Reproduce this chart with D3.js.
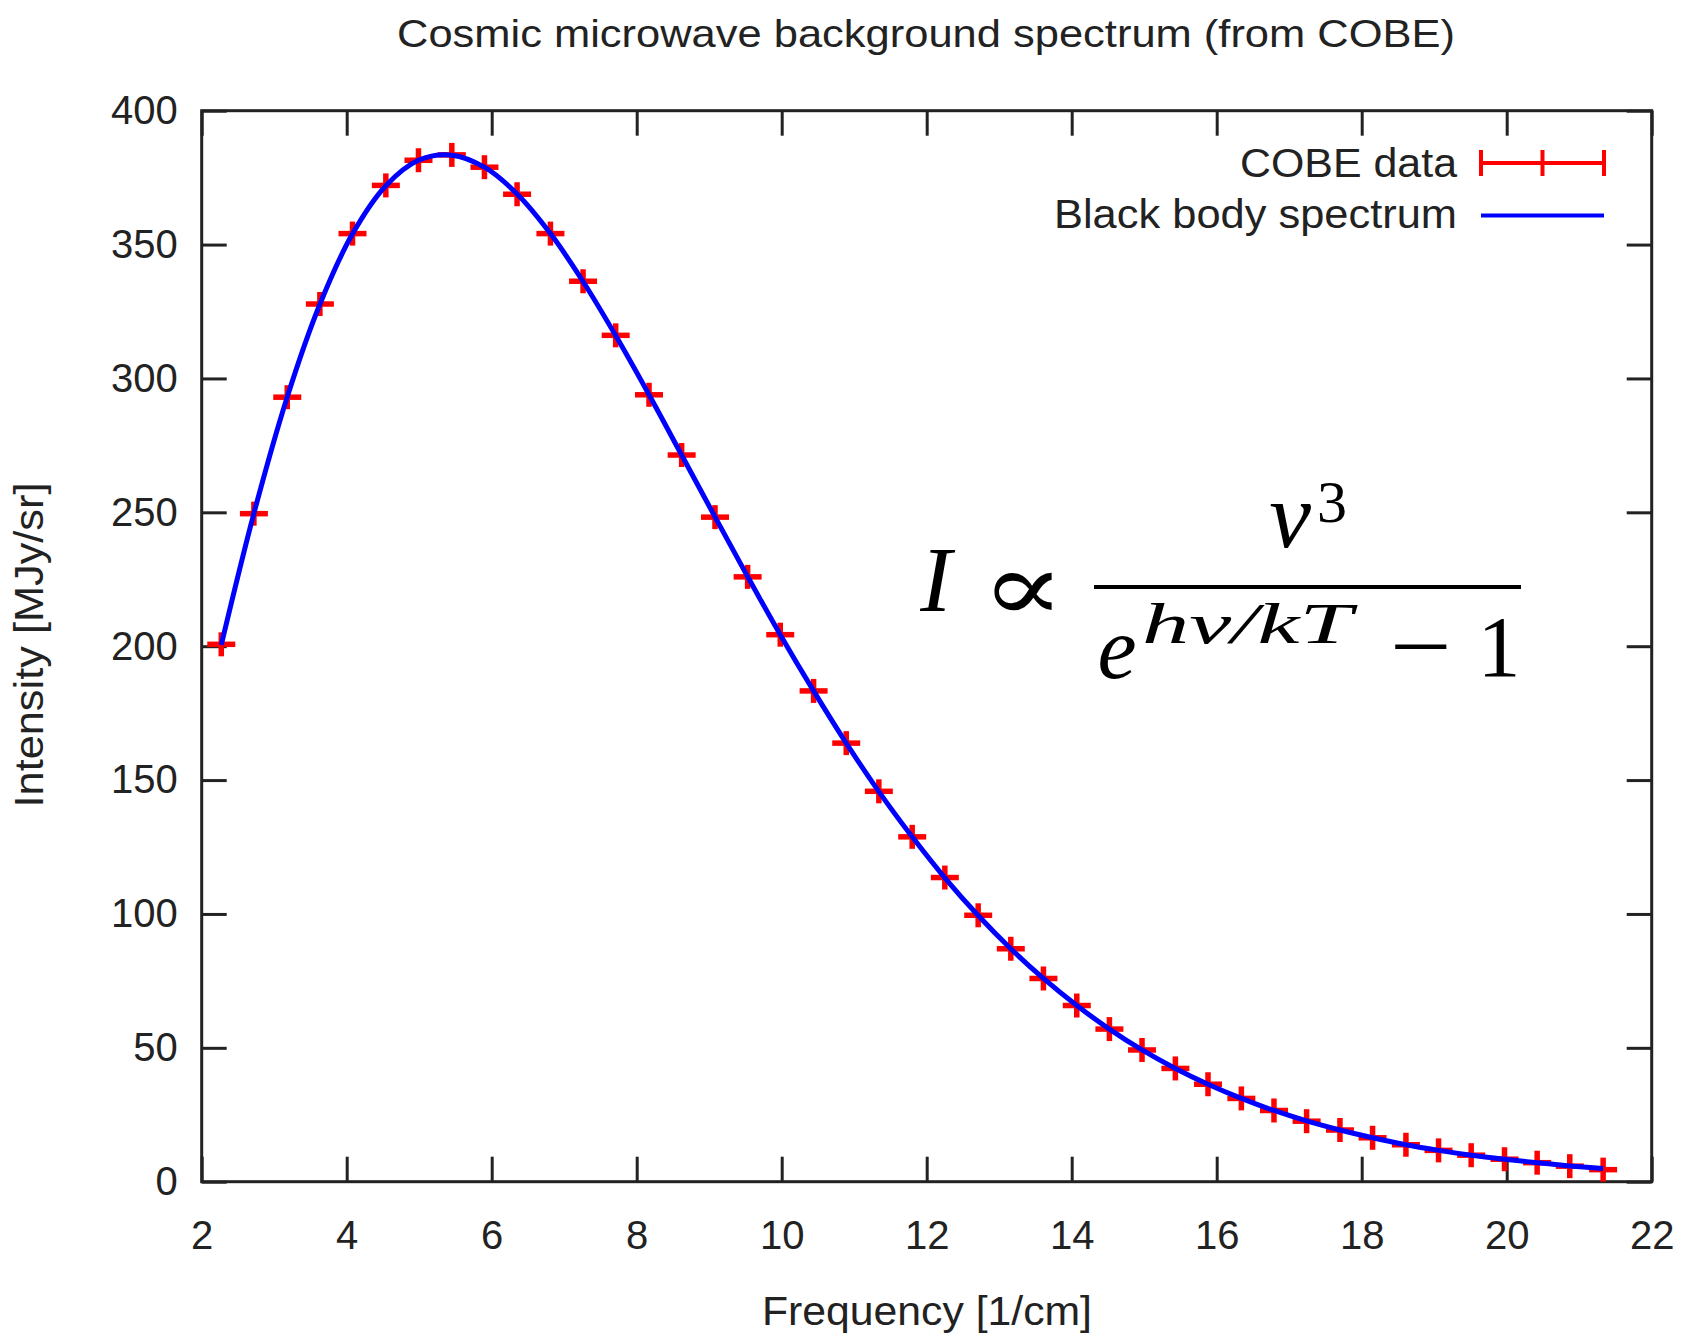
<!DOCTYPE html>
<html>
<head>
<meta charset="utf-8">
<script src="https://cdn.jsdelivr.net/npm/d3@7"></script>
<style>
  html, body { margin: 0; padding: 0; background: #fff; }
  svg { display: block; }
</style>
</head>
<body>
<script>
// ---- data ----
const titleText = "Cosmic microwave background spectrum (from COBE)";
const xLabel = "Frequency [1/cm]";
const yLabel = "Intensity [MJy/sr]";
const legendLabels = ["COBE data", "Black body spectrum"];
const xTicks = [2, 4, 6, 8, 10, 12, 14, 16, 18, 20, 22];
const yTicks = [0, 50, 100, 150, 200, 250, 300, 350, 400];

const frequency = [2.27, 2.72, 3.18, 3.63, 4.08, 4.54, 4.99, 5.45, 5.90, 6.35,
  6.81, 7.26, 7.71, 8.17, 8.62, 9.08, 9.53, 9.98, 10.44, 10.89,
  11.34, 11.80, 12.25, 12.71, 13.16, 13.61, 14.07, 14.52, 14.97, 15.43,
  15.88, 16.34, 16.79, 17.24, 17.70, 18.15, 18.61, 19.06, 19.51, 19.97,
  20.42, 20.87, 21.33];
const cobeIntensity = [200.7, 249.5, 293.0, 327.8, 354.1, 372.1, 381.5, 383.5, 378.9, 368.8,
  354.1, 336.3, 316.1, 293.9, 271.4, 248.2, 225.9, 204.3, 183.3, 163.8,
  145.8, 128.8, 113.6, 99.5, 87.0, 75.9, 65.8, 57.0, 49.2, 42.3,
  36.4, 31.1, 26.6, 22.6, 19.3, 16.4, 13.8, 11.7, 9.9, 8.4,
  7.1, 5.8, 4.5];
const blackBody = [200.5, 249.6, 293.1, 327.7, 354.0, 372.0, 381.5, 383.4, 378.9, 368.9,
  354.1, 336.2, 316.0, 293.9, 271.4, 248.3, 226.0, 204.3, 183.3, 163.8,
  145.7, 128.8, 113.5, 99.4, 87.0, 75.9, 65.8, 57.0, 49.2, 42.3,
  36.4, 31.1, 26.6, 22.7, 19.3, 16.4, 13.8, 11.7, 9.9, 8.4,
  7.1, 5.9, 4.9];

// ---- layout ----
const W = 1682, H = 1335;
const L = 201.7, R = 1651.7, T = 110.7, B = 1181.7;
const ink = "#222";

const svg = d3.select("body").append("svg").attr("width", W).attr("height", H)
  .style("font-family", "'Liberation Sans', Arial, sans-serif");

const x = d3.scaleLinear().domain([2, 22]).range([L, R]);
const y = d3.scaleLinear().domain([0, 400]).range([B, T]);

// title
svg.append("text").attr("x", 926).attr("y", 47).attr("text-anchor", "middle")
  .attr("font-size", 39).attr("fill", ink)
  .attr("textLength", 1058).attr("lengthAdjust", "spacingAndGlyphs")
  .text(titleText);

// axes
const tickLen = 25;
const gx = svg.append("g").attr("transform", `translate(0,${B})`)
  .call(d3.axisBottom(x).tickValues(xTicks).tickSize(-tickLen).tickSizeOuter(0).tickPadding(39).tickFormat(d3.format("d")));
const gy = svg.append("g").attr("transform", `translate(${L},0)`)
  .call(d3.axisLeft(y).tickValues(yTicks).tickSize(-tickLen).tickSizeOuter(0).tickPadding(24).tickFormat(d3.format("d")));
const gxt = svg.append("g").attr("transform", `translate(0,${T})`)
  .call(d3.axisTop(x).tickValues(xTicks).tickSize(-tickLen).tickSizeOuter(0).tickFormat(""));
const gyr = svg.append("g").attr("transform", `translate(${R},0)`)
  .call(d3.axisRight(y).tickValues(yTicks).tickSize(-tickLen).tickSizeOuter(0).tickFormat(""));

[gx, gy, gxt, gyr].forEach(g => {
  g.select(".domain").remove();
  g.selectAll(".tick line").attr("stroke", ink).attr("stroke-width", 3);
  g.selectAll(".tick text").attr("fill", ink).attr("font-size", 40)
    .attr("font-family", "'Liberation Sans', Arial, sans-serif");
});

svg.append("rect").attr("x", L).attr("y", T).attr("width", R - L).attr("height", B - T)
  .attr("fill", "none").attr("stroke", ink).attr("stroke-width", 3);

// axis labels
svg.append("text").attr("x", 927).attr("y", 1325).attr("text-anchor", "middle")
  .attr("font-size", 40).attr("fill", ink)
  .attr("textLength", 330).attr("lengthAdjust", "spacingAndGlyphs").text(xLabel);
svg.append("text").attr("transform", `translate(43,645) rotate(-90)`).attr("text-anchor", "middle")
  .attr("font-size", 40).attr("fill", ink)
  .attr("textLength", 325).attr("lengthAdjust", "spacingAndGlyphs").text(yLabel);

// COBE data markers
const pts = frequency.map((f, i) => ({ f, v: cobeIntensity[i] }));
const red = "#ff0000";
const mk = svg.append("g").attr("stroke", red).attr("stroke-width", 5.5);
mk.selectAll("line.h").data(pts).join("line").attr("class", "h")
  .attr("x1", d => x(d.f) - 14).attr("x2", d => x(d.f) + 14)
  .attr("y1", d => y(d.v)).attr("y2", d => y(d.v));
mk.selectAll("line.v").data(pts).join("line").attr("class", "v")
  .attr("x1", d => x(d.f)).attr("x2", d => x(d.f))
  .attr("y1", d => y(d.v) - 12).attr("y2", d => y(d.v) + 12);

// black body curve
const bb = frequency.map((f, i) => ({ f, v: blackBody[i] }));
svg.append("path").datum(bb)
  .attr("fill", "none").attr("stroke", "#0000ff").attr("stroke-width", 5)
  .attr("stroke-linejoin", "round")
  .attr("d", d3.line().x(d => x(d.f)).y(d => y(d.v)).curve(d3.curveCatmullRom.alpha(0.5)));

// legend
const lg = svg.append("g");
lg.append("text").attr("x", 1457).attr("y", 177).attr("text-anchor", "end")
  .attr("font-size", 41).attr("fill", ink)
  .attr("textLength", 217).attr("lengthAdjust", "spacingAndGlyphs").text(legendLabels[0]);
lg.append("text").attr("x", 1457).attr("y", 228).attr("text-anchor", "end")
  .attr("font-size", 41).attr("fill", ink)
  .attr("textLength", 403).attr("lengthAdjust", "spacingAndGlyphs").text(legendLabels[1]);
const ly1 = 163, lx1 = 1481, lx2 = 1604;
lg.append("line").attr("x1", lx1).attr("x2", lx2).attr("y1", ly1).attr("y2", ly1)
  .attr("stroke", red).attr("stroke-width", 4);
[lx1, (lx1 + lx2) / 2, lx2].forEach(px => {
  lg.append("line").attr("x1", px).attr("x2", px).attr("y1", ly1 - 13).attr("y2", ly1 + 13)
    .attr("stroke", red).attr("stroke-width", 4);
});
lg.append("line").attr("x1", lx1).attr("x2", lx2).attr("y1", 215.5).attr("y2", 215.5)
  .attr("stroke", "#0000ff").attr("stroke-width", 4);

// formula
const fm = svg.append("g").attr("font-family", "'Liberation Serif', 'DejaVu Serif', serif").attr("fill", "#000");
fm.append("text").attr("x", 936).attr("y", 611).attr("text-anchor", "middle")
  .attr("font-size", 94).attr("font-style", "italic").text("I");
fm.append("text").attr("x", 1023).attr("y", 621).attr("text-anchor", "middle")
  .attr("font-size", 98).attr("font-family", "'DejaVu Serif', serif")
  .attr("textLength", 84).attr("lengthAdjust", "spacingAndGlyphs").text("∝");
fm.append("line").attr("x1", 1094).attr("x2", 1521).attr("y1", 587).attr("y2", 587)
  .attr("stroke", "#000").attr("stroke-width", 4);
fm.append("text").attr("x", 1290).attr("y", 547).attr("text-anchor", "middle")
  .attr("font-size", 94).attr("font-style", "italic").text("ν");
fm.append("text").attr("x", 1317).attr("y", 522)
  .attr("font-size", 60).text("3");
fm.append("text").attr("x", 1117).attr("y", 678).attr("text-anchor", "middle")
  .attr("font-size", 88).attr("font-style", "italic").text("e");
fm.append("text").attr("x", 1142).attr("y", 643)
  .attr("font-size", 56).attr("font-style", "italic")
  .attr("textLength", 210).attr("lengthAdjust", "spacingAndGlyphs").text("hν/kT");
fm.append("text").attr("x", 1421).attr("y", 676).attr("text-anchor", "middle")
  .attr("font-size", 88)
  .attr("textLength", 62).attr("lengthAdjust", "spacingAndGlyphs").text("−");
fm.append("text").attr("x", 1499).attr("y", 676).attr("text-anchor", "middle")
  .attr("font-size", 86).text("1");
</script>
</body>
</html>
